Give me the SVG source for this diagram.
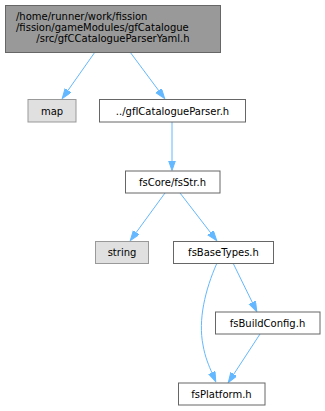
<svg xmlns="http://www.w3.org/2000/svg" width="325" height="411" viewBox="0 0 325 411">
<style>
text{font-family:"DejaVu Sans","Liberation Sans",sans-serif;font-size:10px;fill:#000}
.n rect{fill:#fff;stroke:#666666;stroke-width:1}
.n.sys rect{fill:#e0e0e0;stroke:#999999}
.n.root rect{fill:#999999;stroke:#666666}
.e path{fill:none;stroke:#63b8ff;stroke-width:1}
</style>
<defs>
<marker id="ah" markerUnits="userSpaceOnUse" markerWidth="11" markerHeight="8" refX="0.5" refY="3.5" orient="auto" viewBox="0 0 11 8">
<polygon points="0,0 10,3.5 0,7" fill="#63b8ff" stroke="#63b8ff" stroke-width="1"/>
</marker>
</defs>
<rect width="325" height="411" fill="#fff"/>
<g id="connectors" class="e">
<path d="M95,52 L67.7,90.8" marker-end="url(#ah)"/>
<path d="M130,52 L159,91" marker-end="url(#ah)"/>
<path d="M172,122 L172,161" marker-end="url(#ah)"/>
<path d="M165,193 L135.9,232.9" marker-end="url(#ah)"/>
<path d="M180,193 L210.9,233.1" marker-end="url(#ah)"/>
<path d="M233,263 L252.6,303" marker-end="url(#ah)"/>
<path d="M260,334 L233.5,374.6" marker-end="url(#ah)"/>
<path d="M217,263 C205,290 198,320 203,345 C205,357 209,366 212,373" marker-end="url(#ah)"/>
</g>
<g id="node1" class="n root">
<rect x="5.5" y="5.5" width="215" height="47"/>
<text x="16" y="19.5">/home/runner/work/fission</text>
<text x="16" y="30.75">/fission/gameModules/gfCatalogue</text>
<text x="113" y="42" text-anchor="middle">/src/gfCCatalogueParserYaml.h</text>
</g>
<g id="node2" class="n sys">
<rect x="28" y="99.5" width="48" height="22.5"/>
<text x="52" y="114.5" text-anchor="middle">map</text>
</g>
<g id="node3" class="n">
<rect x="99.5" y="99.5" width="146" height="22.5"/>
<text x="172.5" y="114.5" text-anchor="middle">../gfICatalogueParser.h</text>
</g>
<g id="node4" class="n">
<rect x="125.5" y="171" width="94.5" height="22"/>
<text x="172.5" y="185.5" text-anchor="middle">fsCore/fsStr.h</text>
</g>
<g id="node5" class="n sys">
<rect x="95.5" y="241.5" width="53" height="22"/>
<text x="122" y="256" text-anchor="middle">string</text>
</g>
<g id="node6" class="n">
<rect x="173.5" y="241.5" width="100" height="22"/>
<text x="223.5" y="256" text-anchor="middle">fsBaseTypes.h</text>
</g>
<g id="node7" class="n">
<rect x="215.5" y="312" width="104.5" height="22"/>
<text x="267.5" y="326.5" text-anchor="middle">fsBuildConfig.h</text>
</g>
<g id="node8" class="n">
<rect x="178.5" y="383" width="86.5" height="22"/>
<text x="221.5" y="397.5" text-anchor="middle">fsPlatform.h</text>
</g>
</svg>
